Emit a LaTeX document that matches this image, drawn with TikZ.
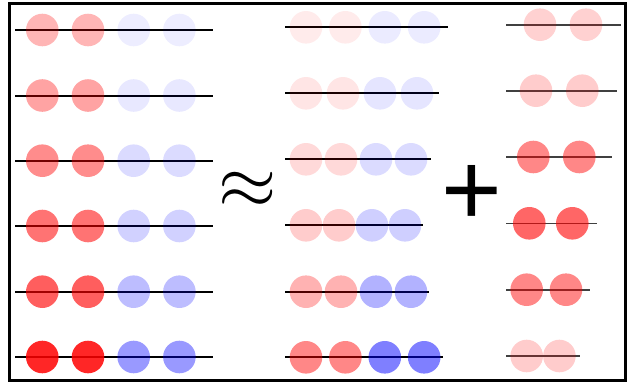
\documentclass[tikz,border=0pt]{standalone}
\usepackage{fontspec}
\newfontfamily\plusfont{Liberation Sans}
\tikzset{bar/.style = {draw, line width=2pt},
         thinbar/.style = {draw=black!75, line width=1.6pt},
         redbead/.style = {fill=red, fill opacity=#1},
         bluebead/.style = {fill=blue, fill opacity=#1},
         sign/.style = {inner sep=0pt}}

\begin{document}
\begin{tikzpicture}[x=1pt,y=-1pt]
        \useasboundingbox (0,0) rectangle (633,383);
        \draw[line width=3pt](9,3) rectangle (625,380);

        % left: the data rows
        \foreach \y/\ro/\bo in {30/.29/.07, 95.5/.36/.09, 160.7/.45/.14, 226/.55/.18, 291.7/.63/.26, 357/.85/.4}{
            \draw[bar](15,\y)--(213,\y);
            \fill[redbead=\ro](42.3,\y) circle[radius=16.3pt];
            \fill[redbead=\ro](88,\y) circle[radius=16.3pt];
            \fill[bluebead=\bo](133.7,\y) circle[radius=16.3pt];
            \fill[bluebead=\bo](179.4,\y) circle[radius=16.3pt];
        }

        % middle: four beads per row
        \foreach \y/\d/\e/\ro/\bo in {27.3/39.4/448/.08/.08, 93.3/37/439/.1/.1, 159.3/35/431/.15/.14,
                                      225.3/33/423/.2/.19, 291.7/35/429/.3/.3, 357.3/39.4/443/.47/.5}{
            \draw[bar](285,\y)--(\e,\y);
            \fill[redbead=\ro](306,\y) circle[radius=16.3pt];
            \fill[redbead=\ro]({306+\d},\y) circle[radius=16.3pt];
            \fill[bluebead=\bo]({306+2*\d},\y) circle[radius=16.3pt];
            \fill[bluebead=\bo]({306+3*\d},\y) circle[radius=16.3pt];
        }

        % right: two beads per row
        \foreach \y/\s/\d/\e/\ro in {24.7/540/46/621/.18, 90.7/536/46.3/617/.2, 157/533.3/46/612/.47,
                                     223.3/529.3/43/597/.6, 289.7/526.7/39.3/590/.47, 356/526.7/32.7/580/.2}{
            \draw[thinbar](506,\y)--(\e,\y);
            \fill[redbead=\ro](\s,\y) circle[radius=16.3pt];
            \fill[redbead=\ro]({\s+\d},\y) circle[radius=16.3pt];
        }

        \node[sign, scale=7.5] (approx) at (248,190) {$\approx$};
        \node[sign] (plus) at (471.7,195.5) {\plusfont\fontsize{104}{104}\selectfont +};
\end{tikzpicture}
\end{document}
